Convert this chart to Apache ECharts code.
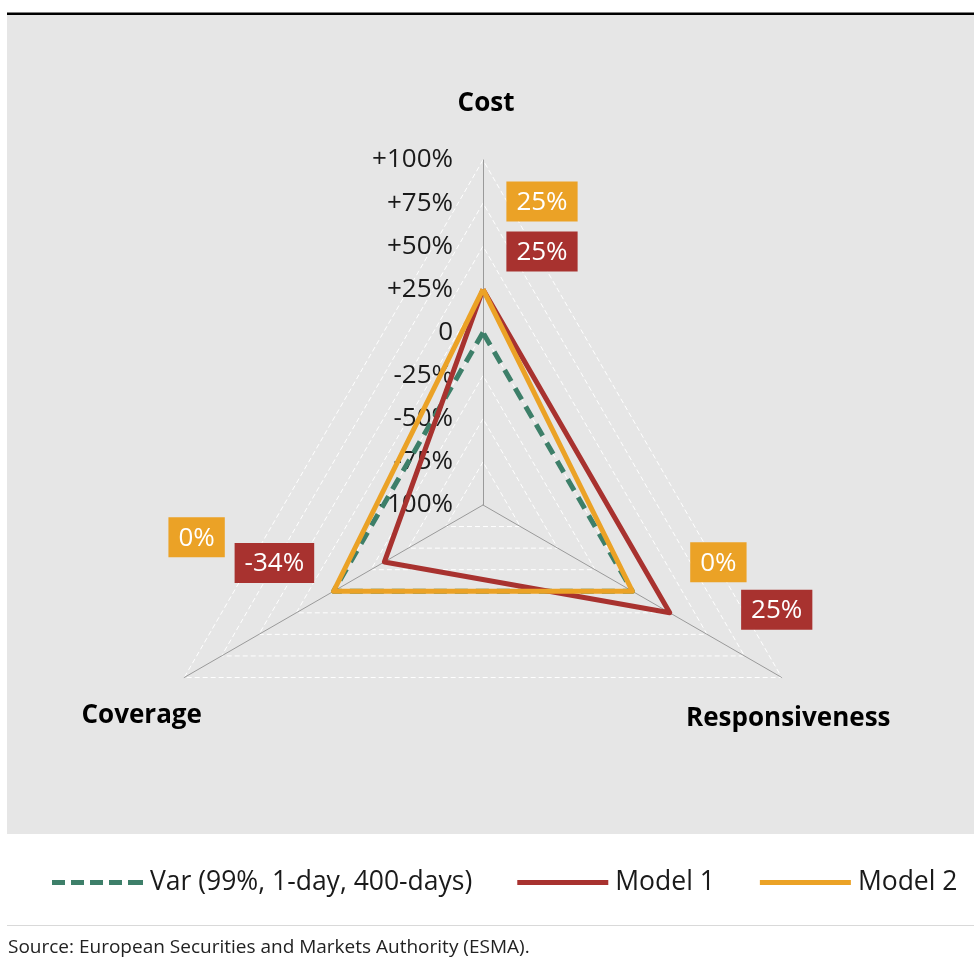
<!DOCTYPE html>
<html>
<head>
<meta charset="utf-8">
<script src="https://cdn.jsdelivr.net/npm/echarts@6/dist/echarts.min.js"></script>
<style>
  html, body { margin: 0; padding: 0; background: #ffffff; }
  #chart { width: 974px; height: 972px; }
</style>
</head>
<body>
<div id="chart"></div>
<script>
// Radar axes (counter-clockwise from the top)
const indicatorNames = ['Cost', 'Coverage', 'Responsiveness'];
// Scale: centre is -100 %, outer ring is +100 %
const axisMin = -100;
const axisMax = 100;
const tickValues = [-100, -75, -50, -25, 0, 25, 50, 75, 100];
const tickLabels = ['-100%', '-75%', '-50%', '-25%', '0', '+25%', '+50%', '+75%', '+100%'];

// Series
const seriesNames = ['Var (99%, 1-day, 400-days)', 'Model 1', 'Model 2'];
const varValues = [0, 0, 0];
const model1Values = [25, -34, 25];
const model2Values = [25, 0, 0];

const FONT = "'Open Sans', 'Noto Sans', sans-serif";
const COLORS = ['#3D7F69', '#A8322F', '#EBA226'];

function pct(v) { return v + '%'; }
function tickText(v) {
  const i = tickValues.indexOf(Math.round(v));
  return i >= 0 ? tickLabels[i] : '';
}

// Placement of the value boxes, per series and axis (offset from the vertex)
const labelOffsets = {
  'Model 1': [[59, -38], [-110, 1], [107, -3]],
  'Model 2': [[59, -88], [-137, -54], [86, -29]]
};

// Indicator-name placement (rich padding shifts each name off its axis end)
const namePadding = [[0, 0, 112, 6], [77, 85, 0, 0], [83, 0, 0, 13]];

const nameRich = {};
indicatorNames.forEach(function (n, i) {
  nameRich['n' + i] = {
    fontFamily: FONT, fontSize: 26, fontWeight: 'bold', color: '#000000',
    padding: namePadding[i]
  };
});

const indicators = indicatorNames.map(function (n, i) {
  return { name: n, min: axisMin, max: axisMax, axisLabel: { show: i === 0 } };
});

const series = [
  {
    type: 'radar', name: seriesNames[0], symbol: 'none', z: 2,
    itemStyle: { color: COLORS[0] },
    lineStyle: { color: COLORS[0], width: 5, type: [13, 8] },
    data: [{ name: seriesNames[0], value: varValues }]
  },
  {
    type: 'radar', name: seriesNames[1], symbol: 'none', z: 3,
    itemStyle: { color: COLORS[1] },
    lineStyle: { color: COLORS[1], width: 5 },
    data: [{ name: seriesNames[1], value: model1Values }]
  },
  {
    type: 'radar', name: seriesNames[2], symbol: 'none', z: 4,
    itemStyle: { color: COLORS[2] },
    lineStyle: { color: COLORS[2], width: 5 },
    data: [{ name: seriesNames[2], value: model2Values }]
  }
];

// One label layer per model and axis, each carrying its own offset
[[seriesNames[1], model1Values, COLORS[1]], [seriesNames[2], model2Values, COLORS[2]]].forEach(function (m) {
  indicatorNames.forEach(function (axisName, d) {
    series.push({
      type: 'radar', name: m[0] + ' – ' + axisName, silent: true, z: 6,
      symbol: 'circle', symbolSize: 2,
      itemStyle: { color: 'rgba(0,0,0,0)' },
      lineStyle: { width: 0, opacity: 0 },
      label: {
        show: true, position: 'inside', offset: labelOffsets[m[0]][d],
        formatter: function (p) {
          return p.dimensionIndex === d ? '{box|' + pct(p.value) + '}' : '';
        },
        rich: {
          box: {
            backgroundColor: m[2], color: '#ffffff', fontFamily: FONT, fontSize: 26,
            lineHeight: 31, padding: [8, 10, 6, 10]
          }
        }
      },
      data: [{ name: m[0] + ' – ' + axisName, value: m[1] }]
    });
  });
});

const lineIcon = 'path://M0,0h91v5h-91z';
const dashIcon = 'path://M0,0h13v5h-13z M19,0h13v5h-13z M38,0h13v5h-13z M57,0h13v5h-13z M76,0h15v5h-15z';

const option = {
  animation: false,
  backgroundColor: '#ffffff',
  graphic: {
    elements: [
      { type: 'rect', z: -10, silent: true, shape: { x: 7, y: 15, width: 967, height: 819 }, style: { fill: '#E6E6E6' } },
      { type: 'rect', z: -9, silent: true, shape: { x: 7, y: 12.5, width: 967, height: 2.5 }, style: { fill: '#000000' } },
      { type: 'rect', z: -9, silent: true, shape: { x: 7, y: 925, width: 967, height: 1 }, style: { fill: '#D9D9D9' } }
    ]
  },
  title: {
    text: 'Source: European Securities and Markets Authority (ESMA).',
    left: 8, top: 938, padding: 0,
    textStyle: { fontFamily: FONT, fontSize: 19, fontWeight: 'normal', color: '#222222' }
  },
  legend: {
    left: 52, top: 869, padding: 0,
    itemWidth: 91, itemHeight: 5, itemGap: 45,
    textStyle: { fontFamily: FONT, fontSize: 26.5, color: '#1A1A1A', padding: [0, 0, 0, 2] },
    data: [
      { name: seriesNames[0], icon: dashIcon, itemStyle: { color: COLORS[0], borderWidth: 0 } },
      { name: seriesNames[1], icon: lineIcon, itemStyle: { color: COLORS[1], borderWidth: 0 } },
      { name: seriesNames[2], icon: lineIcon, itemStyle: { color: COLORS[2], borderWidth: 0 } }
    ]
  },
  radar: {
    center: [483, 505],
    radius: 345,
    startAngle: 90,
    splitNumber: 8,
    shape: 'polygon',
    nameGap: 0,
    indicator: indicators,
    axisName: {
      fontFamily: FONT, fontSize: 26, fontWeight: 'bold', color: '#000000',
      align: 'center', verticalAlign: 'middle',
      formatter: function (name) {
        return '{n' + indicatorNames.indexOf(name) + '|' + name + '}';
      },
      rich: nameRich
    },
    axisLine: { show: true, lineStyle: { color: '#9A9A9A', width: 1 } },
    axisTick: { show: false },
    axisLabel: {
      show: true, margin: 30, fontFamily: FONT, fontSize: 26, color: '#1A1A1A',
      formatter: tickText
    },
    splitLine: { show: true, lineStyle: { color: '#FFFFFF', width: 1, type: [5, 3] } },
    splitArea: { show: false }
  },
  series: series
};

const chart = echarts.init(document.getElementById('chart'), null, { renderer: 'canvas' });
chart.setOption(option);
</script>
</body>
</html>
